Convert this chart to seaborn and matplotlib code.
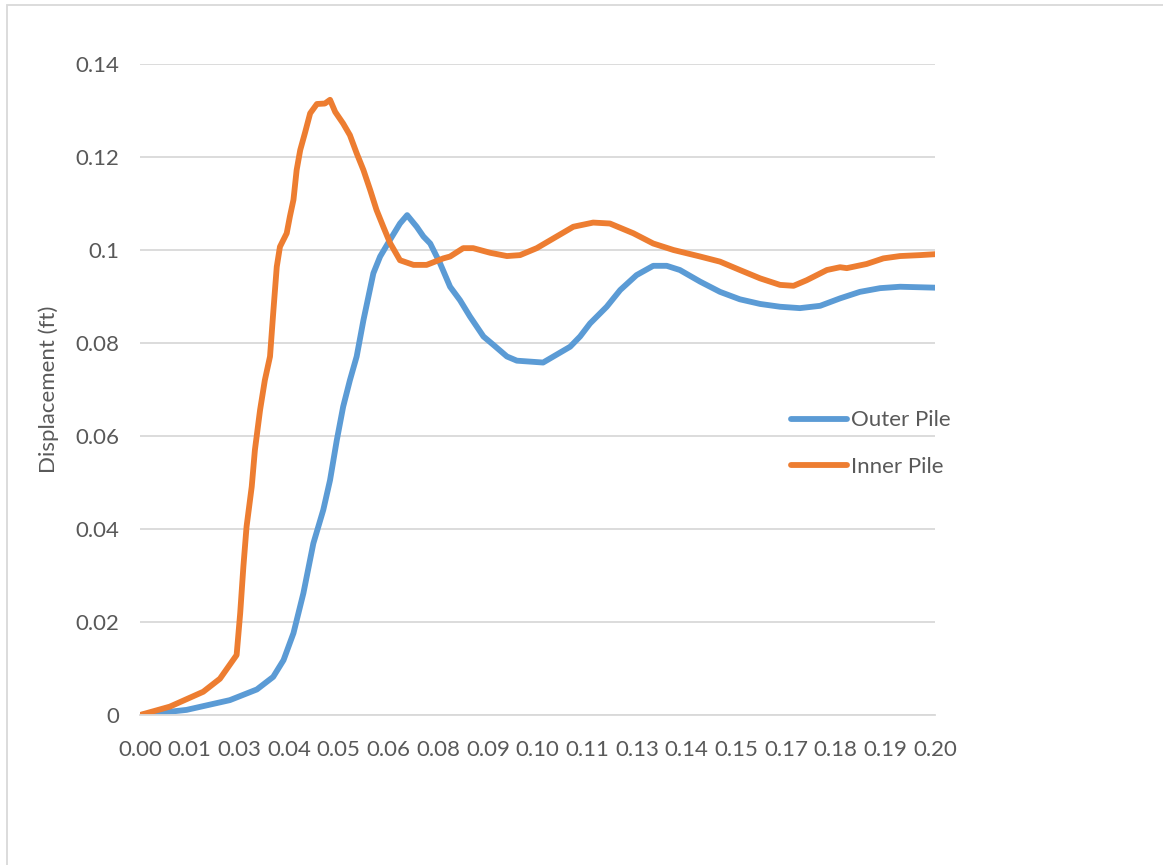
import numpy as np
import pandas as pd
import seaborn as sns
import matplotlib.pyplot as plt
from matplotlib.patches import Rectangle

# time (s) and displacement (ft)
t_outer = [0.0, 0.0117, 0.0226, 0.0294, 0.0335, 0.0361, 0.0386, 0.0411, 0.0436, 0.0461,
           0.0478, 0.0495, 0.0511, 0.0528, 0.0545, 0.0562, 0.0587, 0.0604, 0.0629, 0.0654,
           0.0672, 0.0696, 0.0713, 0.0730, 0.0755, 0.0780, 0.0805, 0.0830, 0.0864, 0.0889,
           0.0923, 0.0948, 0.0981, 0.1014, 0.1040, 0.1082, 0.1107, 0.1132, 0.1174, 0.1208,
           0.1249, 0.1291, 0.1325, 0.1358, 0.1409, 0.1459, 0.1509, 0.1560, 0.1610, 0.1660,
           0.1711, 0.1761, 0.1811, 0.1862, 0.1912, 0.2000]
outer_pile = [0.0, 0.0011, 0.0032, 0.0055, 0.0082, 0.0118, 0.0176, 0.0262, 0.0369, 0.0441,
              0.0505, 0.0591, 0.0663, 0.0720, 0.0771, 0.0849, 0.0950, 0.0986, 0.1022, 0.1057,
              0.1075, 0.1050, 0.1029, 0.1014, 0.0971, 0.0921, 0.0892, 0.0857, 0.0814, 0.0796,
              0.0771, 0.0762, 0.0760, 0.0758, 0.0771, 0.0792, 0.0814, 0.0842, 0.0878, 0.0914,
              0.0946, 0.0966, 0.0966, 0.0957, 0.0932, 0.0910, 0.0894, 0.0884, 0.0878, 0.0875,
              0.0880, 0.0896, 0.0910, 0.0918, 0.0921, 0.0919]

t_inner = [0.0, 0.0075, 0.0159, 0.0201, 0.0243, 0.0252, 0.0260, 0.0268, 0.0281, 0.0289,
           0.0302, 0.0314, 0.0327, 0.0335, 0.0344, 0.0352, 0.0369, 0.0377, 0.0386, 0.0394,
           0.0403, 0.0415, 0.0428, 0.0445, 0.0465, 0.0478, 0.0491, 0.0511, 0.0528, 0.0545,
           0.0562, 0.0579, 0.0595, 0.0612, 0.0629, 0.0654, 0.0688, 0.0721, 0.0763, 0.0780,
           0.0813, 0.0838, 0.0881, 0.0923, 0.0956, 0.0998, 0.1040, 0.1090, 0.1140, 0.1182,
           0.1241, 0.1291, 0.1342, 0.1409, 0.1459, 0.1509, 0.1560, 0.1610, 0.1644, 0.1677,
           0.1728, 0.1761, 0.1778, 0.1828, 0.1870, 0.1912, 0.1962, 0.2000]
inner_pile = [0.0, 0.0018, 0.0050, 0.0078, 0.0129, 0.0219, 0.0319, 0.0405, 0.0491, 0.0570,
              0.0656, 0.0720, 0.0771, 0.0864, 0.0964, 0.1007, 0.1036, 0.1072, 0.1108, 0.1172,
              0.1215, 0.1252, 0.1294, 0.1314, 0.1315, 0.1323, 0.1297, 0.1272, 0.1247, 0.1208,
              0.1172, 0.1129, 0.1086, 0.1050, 0.1015, 0.0978, 0.0968, 0.0968, 0.0982, 0.0986,
              0.1004, 0.1004, 0.0994, 0.0987, 0.0989, 0.1004, 0.1025, 0.1050, 0.1059, 0.1057,
              0.1036, 0.1014, 0.1000, 0.0986, 0.0975, 0.0957, 0.0939, 0.0925, 0.0923, 0.0935,
              0.0957, 0.0963, 0.0961, 0.0970, 0.0982, 0.0987, 0.0989, 0.0991]

xtick_labels = ['0.00', '0.01', '0.03', '0.04', '0.05', '0.06', '0.08', '0.09', '0.10',
                '0.11', '0.13', '0.14', '0.15', '0.17', '0.18', '0.19', '0.20']
yticks = [0, 0.02, 0.04, 0.06, 0.08, 0.1, 0.12, 0.14]
ytick_labels = ['0', '0.02', '0.04', '0.06', '0.08', '0.1', '0.12', '0.14']

df = pd.concat([
    pd.DataFrame({'t': t_outer, 'disp': outer_pile, 'pile': 'Outer Pile'}),
    pd.DataFrame({'t': t_inner, 'disp': inner_pile, 'pile': 'Inner Pile'}),
])

sns.set_style('white')
plt.rcParams['font.family'] = ['Lato', 'DejaVu Sans']
txt = '#595959'

fig = plt.figure(figsize=(11.63, 8.65), dpi=100)
ax = fig.add_axes([0.1204, 0.1734, 0.6836, 0.7526])

sns.lineplot(data=df, x='t', y='disp', hue='pile', sort=False, ax=ax,
             palette={'Outer Pile': '#5B9BD5', 'Inner Pile': '#ED7D31'},
             linewidth=4.2, solid_capstyle='round', solid_joinstyle='round')

ax.set_xlim(0, 0.2)
ax.set_ylim(0, 0.14)
ax.set_xticks(np.linspace(0, 0.2, len(xtick_labels)))
ax.set_xticklabels(xtick_labels)
ax.set_yticks(yticks)
ax.set_yticklabels(ytick_labels)
ax.tick_params(length=0, labelsize=16, colors=txt)
ax.tick_params(axis='x', pad=18)
ax.tick_params(axis='y', pad=15)
ax.grid(axis='y', color='#D9D9D9', linewidth=1.3)
ax.set_axisbelow(True)
for s in ['top', 'right', 'left']:
    ax.spines[s].set_visible(False)
ax.spines['bottom'].set_color('#D9D9D9')
ax.spines['bottom'].set_linewidth(1.3)
ax.set_xlabel('')
ax.set_ylabel('Displacement (ft)', fontsize=16, color=txt, labelpad=12)

ax.get_legend().remove()
h, l = ax.get_legend_handles_labels()
fig.legend(h, l, loc='center left', bbox_to_anchor=(0.663, 0.487), frameon=False,
           fontsize=16, labelcolor=txt, handlelength=2.5, handletextpad=0.2,
           labelspacing=1.2)

fig.patches.append(Rectangle((0.006, -0.1), 2, 1.0942, transform=fig.transFigure,
                             fill=False, edgecolor='#D9D9D9', linewidth=1.3))

fig.savefig('out.png', dpi=100)
